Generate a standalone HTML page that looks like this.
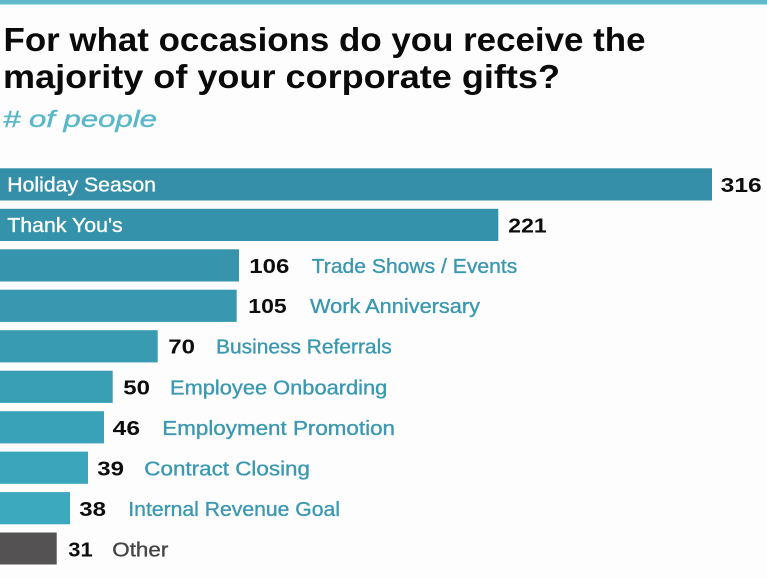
<!DOCTYPE html>
<html>
<head>
<meta charset="utf-8">
<style>
  html, body { margin: 0; padding: 0; background: #fdfdfd; }
  body { width: 767px; height: 578px; overflow: hidden; }
  svg { display: block; }
  .t { font-family: "Liberation Sans", sans-serif; font-weight: bold; fill: #0a0a0a; }
  .v { font-family: "Liberation Sans", sans-serif; font-weight: bold; fill: #0d0d0d; font-size: 20px; }
  .l { font-family: "Liberation Sans", sans-serif; fill: #3a98b1; stroke: #3a98b1; stroke-width: 0.35px; font-size: 20px; }
  .w { font-family: "Liberation Sans", sans-serif; fill: #ffffff; stroke: #ffffff; stroke-width: 0.35px; font-size: 20px; }
</style>
</head>
<body>
<svg width="767" height="578" viewBox="0 0 767 578" xmlns="http://www.w3.org/2000/svg">
  <rect x="0" y="0" width="767" height="578" fill="#fdfdfd"/>
  <rect x="0" y="0" width="767" height="4.5" fill="#5fbacb"/>

  <text class="t" x="3.5" y="51" font-size="33" textLength="642" lengthAdjust="spacingAndGlyphs">For what occasions do you receive the</text>
  <text class="t" x="3" y="88" font-size="33" textLength="557" lengthAdjust="spacingAndGlyphs">majority of your corporate gifts?</text>
  <text x="3" y="127" font-family="Liberation Sans, sans-serif" font-style="italic" font-size="23" fill="#5ab8c8" stroke="#5ab8c8" stroke-width="0.4" textLength="154" lengthAdjust="spacingAndGlyphs"># of people</text>

  <!-- bars -->
  <rect x="0" y="168.3" width="712" height="32.2" fill="#358fa9"/>
  <rect x="0" y="208.8" width="498.3" height="32.2" fill="#3592ab"/>
  <rect x="0" y="249.3" width="239" height="32.2" fill="#3695ad"/>
  <rect x="0" y="289.7" width="236.7" height="32.2" fill="#3798b0"/>
  <rect x="0" y="330.2" width="157.7" height="32.2" fill="#389bb2"/>
  <rect x="0" y="370.7" width="112.7" height="32.2" fill="#399fb5"/>
  <rect x="0" y="411.2" width="104" height="32.2" fill="#3aa2b8"/>
  <rect x="0" y="451.6" width="88" height="32.2" fill="#3ba5bb"/>
  <rect x="0" y="492.1" width="70" height="32.2" fill="#3ca9be"/>
  <rect x="0" y="532.5" width="56.7" height="32" fill="#545252"/>

  <!-- inside labels -->
  <text class="w" x="7.3" y="191.7" textLength="148.7" lengthAdjust="spacingAndGlyphs">Holiday Season</text>
  <text class="w" x="7.3" y="232.2" textLength="115.4" lengthAdjust="spacingAndGlyphs">Thank You's</text>

  <!-- values -->
  <text class="v" x="720.7" y="191.8" textLength="41" lengthAdjust="spacingAndGlyphs">316</text>
  <text class="v" x="508.3" y="232.3" textLength="38.4" lengthAdjust="spacingAndGlyphs">221</text>
  <text class="v" x="249.3" y="272.8" textLength="40" lengthAdjust="spacingAndGlyphs">106</text>
  <text class="v" x="248.3" y="313.2" textLength="38.4" lengthAdjust="spacingAndGlyphs">105</text>
  <text class="v" x="168.3" y="353.7" textLength="26.7" lengthAdjust="spacingAndGlyphs">70</text>
  <text class="v" x="123.3" y="394.6" textLength="26.7" lengthAdjust="spacingAndGlyphs">50</text>
  <text class="v" x="112.7" y="435" textLength="27.3" lengthAdjust="spacingAndGlyphs">46</text>
  <text class="v" x="97.3" y="475.4" textLength="26.7" lengthAdjust="spacingAndGlyphs">39</text>
  <text class="v" x="79.3" y="515.9" textLength="26.7" lengthAdjust="spacingAndGlyphs">38</text>
  <text class="v" x="68.3" y="556.3" textLength="24.4" lengthAdjust="spacingAndGlyphs">31</text>

  <!-- category labels -->
  <text class="l" x="311.7" y="272.8" textLength="205.6" lengthAdjust="spacingAndGlyphs">Trade Shows / Events</text>
  <text class="l" x="310" y="313.2" textLength="170" lengthAdjust="spacingAndGlyphs">Work Anniversary</text>
  <text class="l" x="216" y="353.7" textLength="175.7" lengthAdjust="spacingAndGlyphs">Business Referrals</text>
  <text class="l" x="170" y="394.6" textLength="217.3" lengthAdjust="spacingAndGlyphs">Employee Onboarding</text>
  <text class="l" x="162.3" y="435" textLength="232.7" lengthAdjust="spacingAndGlyphs">Employment Promotion</text>
  <text class="l" x="144.3" y="475.4" textLength="165.7" lengthAdjust="spacingAndGlyphs">Contract Closing</text>
  <text class="l" x="128.3" y="515.9" textLength="211.7" lengthAdjust="spacingAndGlyphs">Internal Revenue Goal</text>
  <text x="112.3" y="556.3" font-family="Liberation Sans, sans-serif" font-size="20" fill="#444444" stroke="#444444" stroke-width="0.35" textLength="56" lengthAdjust="spacingAndGlyphs">Other</text>
</svg>
</body>
</html>
